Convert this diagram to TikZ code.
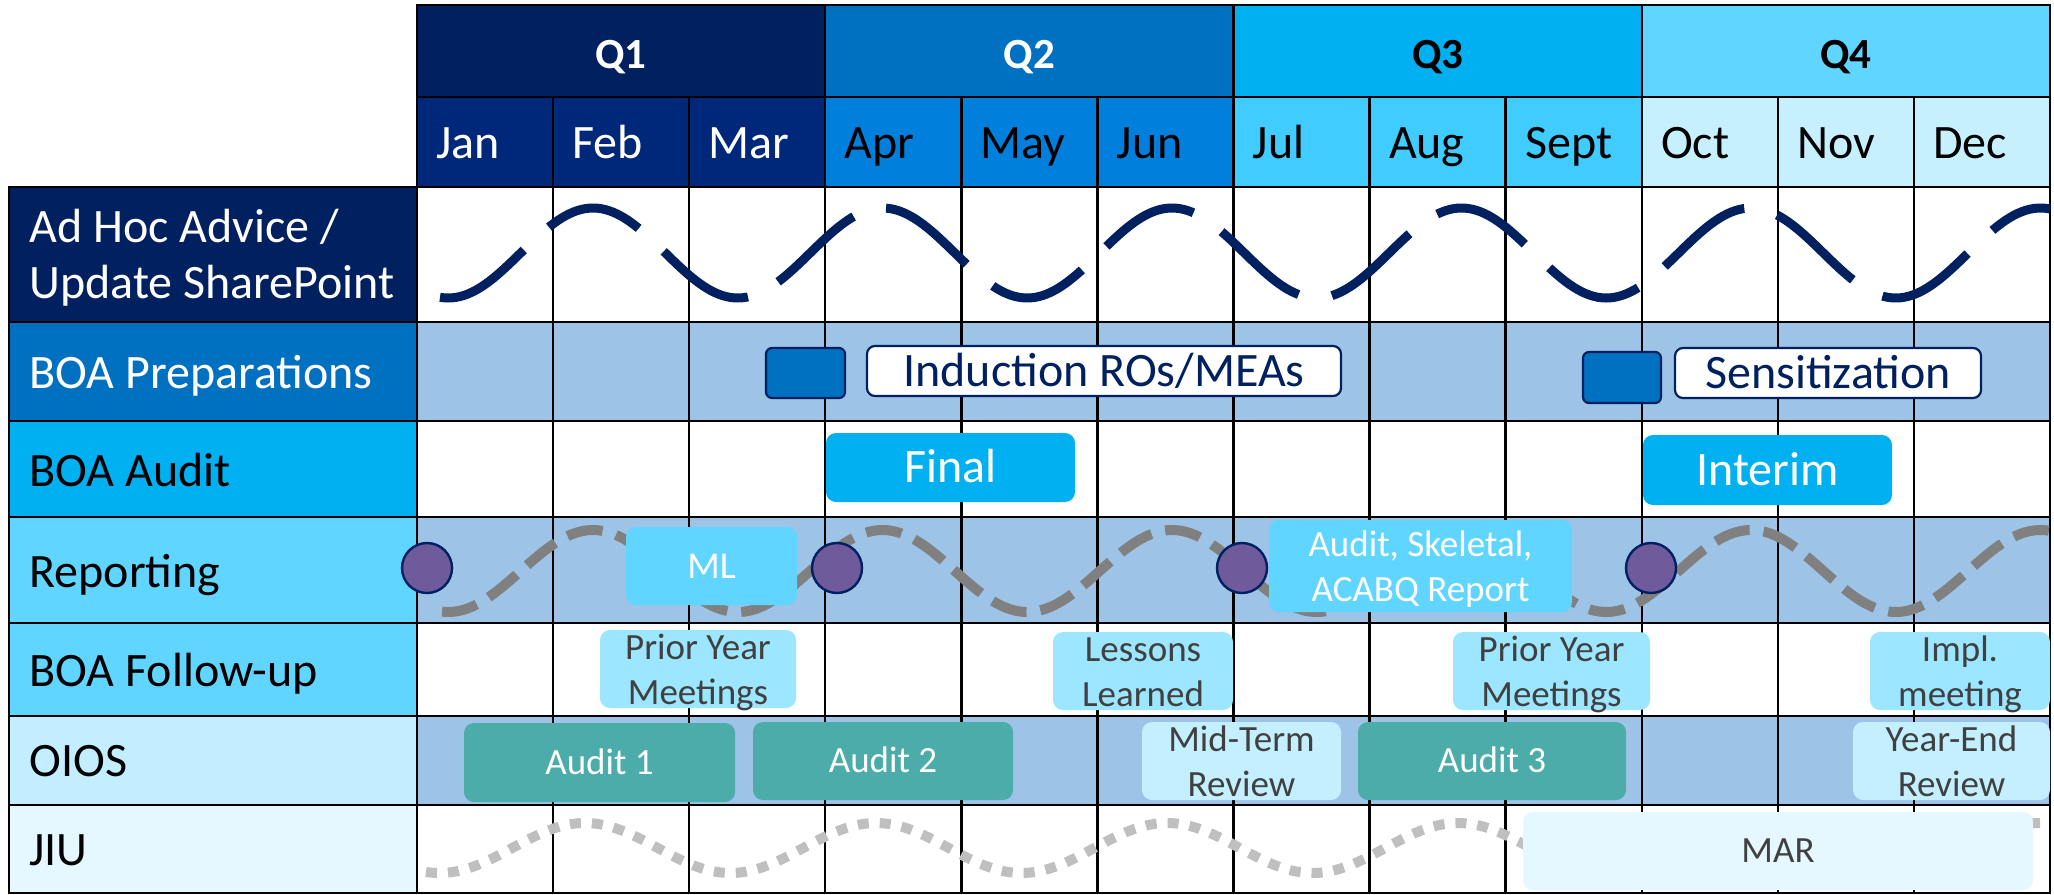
\documentclass[tikz,border=0pt]{standalone}
\usepackage{fontspec}
\setmainfont{Carlito}
\definecolor{navy}{HTML}{002060}
\definecolor{qtwo}{HTML}{0070C0}
\definecolor{qthree}{HTML}{00B0F0}
\definecolor{qfour}{HTML}{5FD5FF}
\definecolor{mone}{HTML}{00287A}
\definecolor{mtwo}{HTML}{0080DC}
\definecolor{mthree}{HTML}{40CCFF}
\definecolor{mfour}{HTML}{C7F0FF}
\definecolor{rowblue}{HTML}{9DC3E6}
\definecolor{lblsix}{HTML}{C2EEFF}
\definecolor{lblseven}{HTML}{E5F7FF}
\definecolor{audteal}{HTML}{4BACAA}
\definecolor{fucyan}{HTML}{9DE6FF}
\definecolor{midcyan}{HTML}{C4EFFF}
\definecolor{darktext}{HTML}{404040}
\definecolor{purp}{HTML}{6F5A9C}
\definecolor{wavegray}{HTML}{808080}
\definecolor{dotgray}{HTML}{BFBFBF}
% struts fixing the first-line height and last-line depth of two-line texts
\newcommand{\boxtop}{\rule{0pt}{17.5pt}}
\newcommand{\boxbot}{\rule[-5pt]{0pt}{5pt}}
\newcommand{\labtop}{\rule{0pt}{20pt}}
\newcommand{\labbot}{\rule[-5pt]{0pt}{5pt}}
\begin{document}
\begin{tikzpicture}[x=0.5pt,y=-0.5pt,
  gridline/.style={line width=1.2pt, black, line cap=rect},
  qlabel/.style={font=\fontsize{21.5}{26}\selectfont\bfseries, inner sep=0pt, text height=13.6pt, text depth=0pt},
  mlabel/.style={font=\fontsize{24}{28}\selectfont, anchor=west, inner sep=0pt, text height=15.2pt, text depth=0pt},
  adlabel/.style={font=\fontsize{24}{28}\selectfont, anchor=west, inner sep=0pt, align=left},
  sqbox/.style={rounded corners=3pt, fill=qtwo, draw=navy, line width=1.1pt, inner sep=0pt},
  outbox/.style={rounded corners=4pt, fill=white, draw=navy, line width=1.1pt, inner sep=0pt, text=navy, font=\fontsize{24}{28}\selectfont, text height=15.2pt, text depth=0pt},
  auditbox/.style={rounded corners=5pt, fill=qthree, inner sep=0pt, text=white, font=\fontsize{24}{28}\selectfont, text height=15.2pt, text depth=0pt},
  smallbox/.style={rounded corners=5pt, inner sep=0pt, align=center, font=\fontsize{18.5}{22.5}\selectfont},
  twoline/.style={inner ysep=-3pt},
  oneline/.style={text height=11.7pt, text depth=0pt},
  dot/.style={circle, fill=purp, draw=navy, line width=1.2pt, minimum size=25pt, inner sep=0pt},
  adhocwave/.style={navy, line width=4.5pt, dash pattern=on 50pt off 17pt},
  repwave/.style={wavegray, line width=5pt, dash pattern=on 18pt off 7pt},
  jiuwave/.style={dotgray, line width=5pt, dash pattern=on 5.5pt off 5.5pt}
]
\useasboundingbox (0,0) rectangle (2054,894);
\fill[white] (0,0) rectangle (2054,894);

% quarter headers
\foreach \q/\c/\t/\l in {0/navy/white/Q1,1/qtwo/white/Q2,2/qthree/black/Q3,3/qfour/black/Q4}{
  \fill[\c] ({417+\q*408.25},5) rectangle ({417+(\q+1)*408.25},97);
  \node[qlabel, text=\t] (\l) at ({417+(\q+0.5)*408.25},55) {\l};
}
% month headers
\foreach \i/\m/\c/\t in {0/Jan/mone/white,1/Feb/mone/white,2/Mar/mone/white,
  3/Apr/mtwo/black,4/May/mtwo/black,5/Jun/mtwo/black,
  6/Jul/mthree/black,7/Aug/mthree/black,8/Sept/mthree/black,
  9/Oct/mfour/black,10/Nov/mfour/black,11/Dec/mfour/black}{
  \fill[\c] ({417+\i*136.083},97) rectangle ({417+(\i+1)*136.083},187);
  \node[mlabel, text=\t] (m\i) at ({417+\i*136.083+19},143) {\m};
}
% row label cells
\fill[navy] (9,187) rectangle (417,322);
\fill[qtwo] (9,322) rectangle (417,421);
\fill[qthree] (9,421) rectangle (417,517);
\fill[qfour] (9,517) rectangle (417,623);
\fill[qfour] (9,623) rectangle (417,716);
\fill[lblsix] (9,716) rectangle (417,805);
\fill[lblseven] (9,805) rectangle (417,893);
% row backgrounds
\fill[rowblue] (417,322) rectangle (2050,421);
\fill[rowblue] (417,517) rectangle (2050,623);
\fill[rowblue] (417,716) rectangle (2050,805);

\node[adlabel, text=white] (ladhoc) at (29,255) {\labtop Ad Hoc Advice /\\Update SharePoint\labbot};
\node[mlabel, text=white] (lprep) at (29,373) {BOA Preparations};
\node[mlabel] (laudit) at (29,471) {BOA Audit};
\node[mlabel] (lrep) at (29,572) {Reporting};
\node[mlabel] (lfu) at (29,671) {BOA Follow-up};
\node[mlabel] (loios) at (29,761) {OIOS};
\node[mlabel] (ljiu) at (29,850) {JIU};

% grid
\foreach \y in {187,322,421,517,623,716,805,893} \draw[gridline] (9,\y) -- (2050,\y);
\foreach \y in {5,97} \draw[gridline] (417,\y) -- (2050,\y);
\draw[gridline] (9,187) -- (9,893);
\foreach \i in {0,3,6,9,12} \draw[gridline] ({417+\i*136.083},5) -- ({417+\i*136.083},893);
\foreach \i in {1,2,4,5,7,8,10,11} \draw[gridline] ({417+\i*136.083},97) -- ({417+\i*136.083},893);

% waves
\draw[adhocwave] plot[domain=440:2050, samples=400] (\x,{253-45*cos(((\x-593)/289.5)*360)});
\draw[repwave] plot[domain=442:2050, samples=400] (\x,{571-41*cos(((\x-593)/289.5)*360)});
\draw[jiuwave] plot[domain=426:2040, samples=400] (\x,{848-25*cos(((\x-585)/291)*360)});

% BOA preparations
\node[sqbox, minimum width=39.5pt, minimum height=25pt] (sqa) at (805.5,373) {};
\node[outbox, minimum width=237pt, minimum height=25pt] (ind) at (1104,371) {Induction ROs/MEAs};
\node[sqbox, minimum width=39pt, minimum height=25.5pt] (sqb) at (1622,377.5) {};
\node[outbox, minimum width=153pt, minimum height=25pt] (sen) at (1828,373) {Sensitization};

% BOA audit
\node[auditbox, minimum width=124.5pt, minimum height=34.5pt] (final) at (950.5,467.5) {Final};
\node[auditbox, minimum width=124.5pt, minimum height=35pt] (interim) at (1767.5,470) {Interim};

% reporting
\node[smallbox, text height=12pt, text depth=0pt, fill=qfour, text=white, font=\fontsize{19}{22.5}\selectfont, minimum width=85.5pt, minimum height=39pt] (ml) at (711.5,566) {ML};
\node[smallbox, twoline, fill=qfour, text=white, minimum width=151.5pt, minimum height=46pt] (ask) at (1420.5,566) {\boxtop Audit, Skeletal,\\ACABQ Report\boxbot};
\node[dot] (r1) at (427,568) {};
\node[dot] (r2) at (837,568) {};
\node[dot] (r3) at (1242,568) {};
\node[dot] (r4) at (1651,568) {};

% follow-up
\node[smallbox, twoline, fill=fucyan, text=darktext, minimum width=98pt, minimum height=39pt] (pya) at (698,669) {\boxtop Prior Year\\Meetings\boxbot};
\node[smallbox, twoline, fill=fucyan, text=darktext, minimum width=90pt, minimum height=39pt] (ll) at (1143,671) {\boxtop Lessons\\Learned\boxbot};
\node[smallbox, twoline, fill=fucyan, text=darktext, minimum width=98.5pt, minimum height=39pt] (pyb) at (1551.5,671) {\boxtop Prior Year\\Meetings\boxbot};
\node[smallbox, twoline, fill=fucyan, text=darktext, minimum width=90pt, minimum height=39pt] (impl) at (1960,671) {\boxtop Impl.\\meeting\boxbot};

% OIOS
\node[smallbox, oneline, fill=audteal, text=white, minimum width=135.5pt, minimum height=39.5pt] (aone) at (599.5,762.5) {Audit 1};
\node[smallbox, oneline, fill=audteal, text=white, minimum width=130pt, minimum height=39pt] (atwo) at (883,761) {Audit 2};
\node[smallbox, twoline, fill=midcyan, text=darktext, minimum width=99.5pt, minimum height=39pt] (mtr) at (1241.5,761) {\boxtop Mid-Term\\Review\boxbot};
\node[smallbox, oneline, fill=audteal, text=white, minimum width=134pt, minimum height=39pt] (athree) at (1492,761) {Audit 3};
\node[smallbox, twoline, fill=midcyan, text=darktext, minimum width=98.5pt, minimum height=39pt] (yer) at (1951.5,761) {\boxtop Year-End\\Review\boxbot};

% JIU
\node[smallbox, oneline, fill=lblseven, text=darktext, minimum width=255pt, minimum height=39pt] (mar) at (1778,851) {MAR};
\end{tikzpicture}
\end{document}
